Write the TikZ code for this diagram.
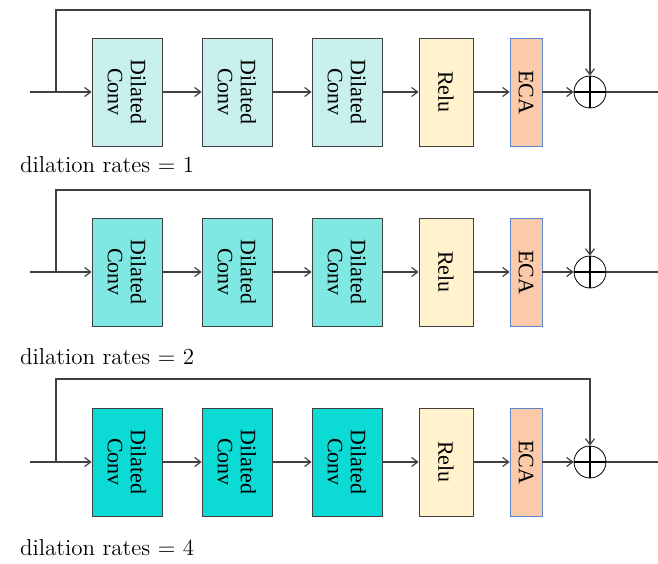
\documentclass[tikz,border=0pt]{standalone}
\usepackage{fontspec}
\newfontfamily\boxfont{Liberation Serif}
\usetikzlibrary{arrows.meta}
\definecolor{lineg}{HTML}{404040}
\definecolor{convA}{HTML}{C8F1EE}
\definecolor{convB}{HTML}{80E8E2}
\definecolor{convC}{HTML}{0CDAD5}
\definecolor{reluc}{HTML}{FFF2CC}
\definecolor{ecac}{HTML}{FBCAAA}
\definecolor{ecab}{HTML}{5B87C8}

\begin{document}
\begin{tikzpicture}[x=0.5pt,y=-0.5pt,
			block/.style={rectangle, draw=lineg, rotate=-90, inner sep=0pt, minimum width=54pt, align=center, font=\boxfont\fontsize{11}{11.5}\selectfont},
			conv/.style={block, minimum height=35pt},
			relu/.style={block, fill=reluc, minimum height=27pt},
			eca/.style={block, draw=ecab, fill=ecac, minimum height=16pt},
			plus/.style={circle, draw=black, minimum size=16pt, inner sep=0pt,
				path picture={\draw[line width=1.4pt] (path picture bounding box.north) -- (path picture bounding box.south) (path picture bounding box.west) -- (path picture bounding box.east);}},
			link/.style={-{Straight Barb[length=3pt,width=4.5pt]}, draw=lineg, line width=0.6pt},
			wire/.style={draw=lineg, line width=0.6pt}
			]
			\useasboundingbox (0,0) rectangle (658,563);
			% one residual block per dilation rate
			\foreach \r/\y/\t/\c/\ly in {1/92/10/convA/165, 2/272/190/convB/357, 4/462/379/convC/548} {
				\coordinate (in\r) at (30,\y);
				\coordinate (br\r) at (56,\y);
				\coordinate (top\r) at (590,\t);
				\coordinate (out\r) at (658,\y);
				
				\node[conv, fill=\c] (D1\r) at (127,\y) {Dilated\\Conv};
				\node[conv, fill=\c] (D2\r) at (237,\y) {Dilated\\Conv};
				\node[conv, fill=\c] (D3\r) at (347,\y) {Dilated\\Conv};
				\node[relu] (R\r) at (446,\y) {Relu};
				\node[eca] (E\r) at (526,\y) {ECA};
				\node[plus] (P\r) at (590,\y) {};
				
				\draw[link] (in\r) -- (D1\r);
				\draw[link] (D1\r) -- (D2\r);
				\draw[link] (D2\r) -- (D3\r);
				\draw[link] (D3\r) -- (R\r);
				\draw[link] (R\r) -- (E\r);
				\draw[link] (E\r) -- (P\r);
				\draw[wire] (P\r) -- (out\r);
				\draw[link] (br\r) |- (top\r) -- (P\r);
				
				\node[anchor=west, font=\fontsize{11.5}{13}\selectfont] (L\r) at (13,\ly) {dilation rates = \r};
			}
		\end{tikzpicture}
\end{document}
